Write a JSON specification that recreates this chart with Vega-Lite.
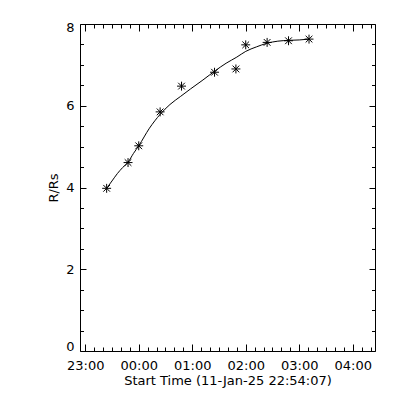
{
  "$schema": "https://vega.github.io/schema/vega-lite/v6.json",
  "width": 295,
  "height": 327,
  "autosize": "none",
  "padding": {"left": 80, "top": 24, "right": 25, "bottom": 49},
  "background": "white",
  "config": {
    "view": {"stroke": null},
    "axis": {
      "domainColor": "black",
      "domainWidth": 1,
      "tickColor": "black",
      "tickWidth": 1,
      "labelColor": "black",
      "titleColor": "black",
      "labelFont": "DejaVu Sans",
      "titleFont": "DejaVu Sans",
      "labelFontSize": 13,
      "titleFontSize": 13,
      "titleFontWeight": "normal",
      "grid": false
    }
  },
  "datasets": {
    "fit": [
      {"time": "2025-01-11T23:24:00", "r": 3.98},
      {"time": "2025-01-11T23:30:00", "r": 4.16},
      {"time": "2025-01-11T23:36:00", "r": 4.34},
      {"time": "2025-01-11T23:42:00", "r": 4.49},
      {"time": "2025-01-11T23:48:00", "r": 4.62},
      {"time": "2025-01-11T23:54:00", "r": 4.83},
      {"time": "2025-01-12T00:00:00", "r": 5.02},
      {"time": "2025-01-12T00:12:00", "r": 5.45},
      {"time": "2025-01-12T00:24:00", "r": 5.79},
      {"time": "2025-01-12T00:35:00", "r": 6.03},
      {"time": "2025-01-12T00:47:00", "r": 6.23},
      {"time": "2025-01-12T00:58:00", "r": 6.41},
      {"time": "2025-01-12T01:12:00", "r": 6.63},
      {"time": "2025-01-12T01:26:00", "r": 6.86},
      {"time": "2025-01-12T01:38:00", "r": 7.04},
      {"time": "2025-01-12T01:50:00", "r": 7.19},
      {"time": "2025-01-12T02:00:00", "r": 7.33},
      {"time": "2025-01-12T02:12:00", "r": 7.44},
      {"time": "2025-01-12T02:24:00", "r": 7.53},
      {"time": "2025-01-12T02:36:00", "r": 7.58},
      {"time": "2025-01-12T02:48:00", "r": 7.60},
      {"time": "2025-01-12T03:00:00", "r": 7.61},
      {"time": "2025-01-12T03:11:00", "r": 7.63}
    ],
    "obs": [
      {"time": "2025-01-11T23:24:00", "r": 3.98},
      {"time": "2025-01-11T23:48:00", "r": 4.61},
      {"time": "2025-01-12T00:00:00", "r": 5.02},
      {"time": "2025-01-12T00:24:00", "r": 5.85},
      {"time": "2025-01-12T00:48:00", "r": 6.48},
      {"time": "2025-01-12T01:25:00", "r": 6.82},
      {"time": "2025-01-12T01:49:00", "r": 6.90},
      {"time": "2025-01-12T02:00:00", "r": 7.49},
      {"time": "2025-01-12T02:24:00", "r": 7.55},
      {"time": "2025-01-12T02:48:00", "r": 7.59},
      {"time": "2025-01-12T03:11:00", "r": 7.63}
    ]
  },
  "resolve": {"axis": {"x": "independent", "y": "independent"}},
  "layer": [
    {
      "data": {"name": "fit"},
      "mark": {"type": "line", "color": "black", "strokeWidth": 1, "interpolate": "monotone"},
      "encoding": {
        "x": {
          "field": "time", "type": "temporal",
          "scale": {"domain": [
            {"year": 2025, "month": 1, "date": 11, "hours": 22, "minutes": 54, "seconds": 7},
            {"year": 2025, "month": 1, "date": 12, "hours": 4, "minutes": 25, "seconds": 0}
          ], "nice": false},
          "axis": {
            "orient": "bottom",
            "values": [
              {"year": 2025, "month": 1, "date": 11, "hours": 23, "minutes": 0},
              {"year": 2025, "month": 1, "date": 11, "hours": 23, "minutes": 10},
              {"year": 2025, "month": 1, "date": 11, "hours": 23, "minutes": 20},
              {"year": 2025, "month": 1, "date": 11, "hours": 23, "minutes": 30},
              {"year": 2025, "month": 1, "date": 11, "hours": 23, "minutes": 40},
              {"year": 2025, "month": 1, "date": 11, "hours": 23, "minutes": 50},
              {"year": 2025, "month": 1, "date": 12, "hours": 0, "minutes": 0},
              {"year": 2025, "month": 1, "date": 12, "hours": 0, "minutes": 10},
              {"year": 2025, "month": 1, "date": 12, "hours": 0, "minutes": 20},
              {"year": 2025, "month": 1, "date": 12, "hours": 0, "minutes": 30},
              {"year": 2025, "month": 1, "date": 12, "hours": 0, "minutes": 40},
              {"year": 2025, "month": 1, "date": 12, "hours": 0, "minutes": 50},
              {"year": 2025, "month": 1, "date": 12, "hours": 1, "minutes": 0},
              {"year": 2025, "month": 1, "date": 12, "hours": 1, "minutes": 10},
              {"year": 2025, "month": 1, "date": 12, "hours": 1, "minutes": 20},
              {"year": 2025, "month": 1, "date": 12, "hours": 1, "minutes": 30},
              {"year": 2025, "month": 1, "date": 12, "hours": 1, "minutes": 40},
              {"year": 2025, "month": 1, "date": 12, "hours": 1, "minutes": 50},
              {"year": 2025, "month": 1, "date": 12, "hours": 2, "minutes": 0},
              {"year": 2025, "month": 1, "date": 12, "hours": 2, "minutes": 10},
              {"year": 2025, "month": 1, "date": 12, "hours": 2, "minutes": 20},
              {"year": 2025, "month": 1, "date": 12, "hours": 2, "minutes": 30},
              {"year": 2025, "month": 1, "date": 12, "hours": 2, "minutes": 40},
              {"year": 2025, "month": 1, "date": 12, "hours": 2, "minutes": 50},
              {"year": 2025, "month": 1, "date": 12, "hours": 3, "minutes": 0},
              {"year": 2025, "month": 1, "date": 12, "hours": 3, "minutes": 10},
              {"year": 2025, "month": 1, "date": 12, "hours": 3, "minutes": 20},
              {"year": 2025, "month": 1, "date": 12, "hours": 3, "minutes": 30},
              {"year": 2025, "month": 1, "date": 12, "hours": 3, "minutes": 40},
              {"year": 2025, "month": 1, "date": 12, "hours": 3, "minutes": 50},
              {"year": 2025, "month": 1, "date": 12, "hours": 4, "minutes": 0},
              {"year": 2025, "month": 1, "date": 12, "hours": 4, "minutes": 10},
              {"year": 2025, "month": 1, "date": 12, "hours": 4, "minutes": 20}
            ],
            "labelExpr": "minutes(datum.value) == 0 ? timeFormat(datum.value, '%H:%M') : ''",
            "tickSize": {"condition": {"test": "minutes(datum.value) == 0", "value": -7}, "value": -4},
            "labelPadding": 15,
            "labelFlush": false,
            "labelOverlap": false,
            "title": "Start Time (11-Jan-25 22:54:07)",
            "titlePadding": -1
          }
        },
        "y": {
          "field": "r", "type": "quantitative",
          "scale": {"domain": [0, 8], "nice": false, "zero": true},
          "axis": {
            "orient": "left",
            "values": [0, 0.5, 1, 1.5, 2, 2.5, 3, 3.5, 4, 4.5, 5, 5.5, 6, 6.5, 7, 7.5, 8],
            "labelExpr": "datum.value % 2 == 0 ? format(datum.value, 'd') : ''",
            "tickSize": {"condition": {"test": "datum.value % 2 == 0", "value": -6}, "value": -3.5},
            "labelPadding": 12,
            "labelFlush": true,
            "labelFlushOffset": 2.5,
            "labelOverlap": false,
            "title": "R/Rs",
            "titlePadding": 5
          }
        }
      }
    },
    {
      "data": {"name": "obs"},
      "mark": {
        "type": "point",
        "shape": "M-1,0L1,0M0,-1L0,1M-0.75,-0.75L0.75,0.75M-0.75,0.75L0.75,-0.75",
        "size": 80,
        "stroke": "black",
        "strokeWidth": 1,
        "filled": false,
        "opacity": 1
      },
      "encoding": {
        "x": {
          "field": "time", "type": "temporal",
          "scale": {"domain": [
            {"year": 2025, "month": 1, "date": 11, "hours": 22, "minutes": 54, "seconds": 7},
            {"year": 2025, "month": 1, "date": 12, "hours": 4, "minutes": 25, "seconds": 0}
          ], "nice": false},
          "axis": {
            "orient": "top",
            "values": [
              {"year": 2025, "month": 1, "date": 11, "hours": 23, "minutes": 0},
              {"year": 2025, "month": 1, "date": 11, "hours": 23, "minutes": 10},
              {"year": 2025, "month": 1, "date": 11, "hours": 23, "minutes": 20},
              {"year": 2025, "month": 1, "date": 11, "hours": 23, "minutes": 30},
              {"year": 2025, "month": 1, "date": 11, "hours": 23, "minutes": 40},
              {"year": 2025, "month": 1, "date": 11, "hours": 23, "minutes": 50},
              {"year": 2025, "month": 1, "date": 12, "hours": 0, "minutes": 0},
              {"year": 2025, "month": 1, "date": 12, "hours": 0, "minutes": 10},
              {"year": 2025, "month": 1, "date": 12, "hours": 0, "minutes": 20},
              {"year": 2025, "month": 1, "date": 12, "hours": 0, "minutes": 30},
              {"year": 2025, "month": 1, "date": 12, "hours": 0, "minutes": 40},
              {"year": 2025, "month": 1, "date": 12, "hours": 0, "minutes": 50},
              {"year": 2025, "month": 1, "date": 12, "hours": 1, "minutes": 0},
              {"year": 2025, "month": 1, "date": 12, "hours": 1, "minutes": 10},
              {"year": 2025, "month": 1, "date": 12, "hours": 1, "minutes": 20},
              {"year": 2025, "month": 1, "date": 12, "hours": 1, "minutes": 30},
              {"year": 2025, "month": 1, "date": 12, "hours": 1, "minutes": 40},
              {"year": 2025, "month": 1, "date": 12, "hours": 1, "minutes": 50},
              {"year": 2025, "month": 1, "date": 12, "hours": 2, "minutes": 0},
              {"year": 2025, "month": 1, "date": 12, "hours": 2, "minutes": 10},
              {"year": 2025, "month": 1, "date": 12, "hours": 2, "minutes": 20},
              {"year": 2025, "month": 1, "date": 12, "hours": 2, "minutes": 30},
              {"year": 2025, "month": 1, "date": 12, "hours": 2, "minutes": 40},
              {"year": 2025, "month": 1, "date": 12, "hours": 2, "minutes": 50},
              {"year": 2025, "month": 1, "date": 12, "hours": 3, "minutes": 0},
              {"year": 2025, "month": 1, "date": 12, "hours": 3, "minutes": 10},
              {"year": 2025, "month": 1, "date": 12, "hours": 3, "minutes": 20},
              {"year": 2025, "month": 1, "date": 12, "hours": 3, "minutes": 30},
              {"year": 2025, "month": 1, "date": 12, "hours": 3, "minutes": 40},
              {"year": 2025, "month": 1, "date": 12, "hours": 3, "minutes": 50},
              {"year": 2025, "month": 1, "date": 12, "hours": 4, "minutes": 0},
              {"year": 2025, "month": 1, "date": 12, "hours": 4, "minutes": 10},
              {"year": 2025, "month": 1, "date": 12, "hours": 4, "minutes": 20}
            ],
            "labels": false,
            "tickSize": {"condition": {"test": "minutes(datum.value) == 0", "value": -7}, "value": -4},
            "title": null
          }
        },
        "y": {
          "field": "r", "type": "quantitative",
          "scale": {"domain": [0, 8], "nice": false, "zero": true},
          "axis": {
            "orient": "right",
            "values": [0, 0.5, 1, 1.5, 2, 2.5, 3, 3.5, 4, 4.5, 5, 5.5, 6, 6.5, 7, 7.5, 8],
            "labels": false,
            "tickSize": {"condition": {"test": "datum.value % 2 == 0", "value": -6}, "value": -3.5},
            "title": null
          }
        }
      }
    }
  ]
}
